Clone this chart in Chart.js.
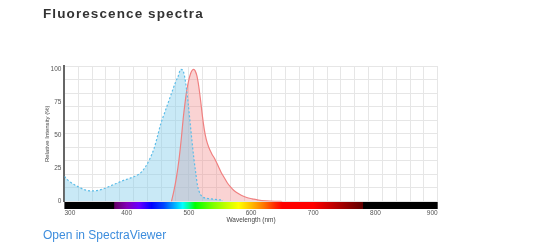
<!DOCTYPE html>
<html lang="en">

<head>
  <meta charset="UTF-8">
  <title>Fluorescence spectra</title>
  <script src="https://cdn.jsdelivr.net/npm/chart.js"></script>
  <style>
    body {
      margin: 0;
      background: #fff;
      font-family: "Liberation Sans", Arial, sans-serif;
    }

    .title {
      position: absolute;
      left: 43px;
      top: 6px;
      font-size: 13.5px;
      line-height: 16px;
      font-weight: bold;
      letter-spacing: 1.1px;
      color: #333;
    }

    .chart-box {
      position: absolute;
      left: 0;
      top: 0;
      width: 536px;
      height: 243px;
    }

    .link {
      position: absolute;
      left: 43px;
      top: 228px;
      font-size: 12px;
      line-height: 14px;
      color: #3d8ddd;
      text-decoration: none;
    }
  </style>
</head>

<body>
  <div class="chart-box">
    <canvas id="spectraChart" width="536" height="243"></canvas>
  </div>
  <div class="title">Fluorescence spectra</div>
  <a class="link" href="#">Open in SpectraViewer</a>

  <script>
    // excitation (blue, dotted)
    const exWavelength = [300, 306, 315, 325, 335, 345, 355, 365, 375, 385, 395, 405, 415, 422, 430, 437, 444, 450, 455, 461, 467, 473, 478, 483, 487, 490, 493, 496, 499, 502, 505, 508, 511, 514, 518, 522, 528, 535, 545, 555];
    const exIntensity = [19, 16, 13, 10.5, 8.5, 8, 8.5, 10, 12, 14, 16, 17.5, 19.5, 21.5, 26, 32, 40, 50, 59, 67, 75, 83, 89.5, 95, 100, 99.5, 95, 86, 74, 60, 46, 33, 22, 12, 6, 3.5, 2.5, 2, 1.5, 1];

    // emission (red, solid)
    const emWavelength = [472, 476, 480, 484, 488, 491, 494, 497, 500, 503, 506, 508, 510, 513, 516, 519, 522, 525, 528, 532, 537, 542, 547, 552, 557, 562, 567, 572, 578, 585, 593, 602, 612, 625, 640, 650];
    const emIntensity = [0, 8, 18, 31, 48, 63, 75, 85, 92, 97, 99.5, 100, 99, 95, 87, 76, 64, 54, 47, 41, 36, 32, 27, 22, 18, 14, 11, 8.5, 6.5, 4.5, 3, 2, 1, 0.4, 0.1, 0];

    const xTicks = [300, 400, 500, 600, 700, 800, 900];
    const yTicks = [0, 25, 50, 75, 100];

    // visible spectrum strip under the plot (nm, colour)
    const spectrumStops = [
      [380, '#610061'], [400, '#8300b5'], [420, '#6a00ff'], [440, '#0000ff'],
      [460, '#0046ff'], [480, '#00c0ff'], [490, '#00ffff'], [500, '#00ff92'],
      [510, '#00ff00'], [540, '#81ff00'], [560, '#c3ff00'], [580, '#ffff00'],
      [600, '#ffbe00'], [620, '#ff7700'], [640, '#ff2100'], [650, '#ff0000'],
      [700, '#ff0000'], [740, '#b00000'], [780, '#600000']
    ];

    const toPoints = (xs, ys) => xs.map((x, i) => ({ x: x, y: ys[i] }));

    const spectrumBar = {
      id: 'spectrumBar',
      afterDatasetsDraw(chart) {
        const { ctx, chartArea, scales } = chart;
        const x = scales.x;
        const top = chartArea.bottom + 0.5;
        const h = 7;
        ctx.save();
        ctx.fillStyle = '#000';
        ctx.fillRect(chartArea.left, top, chartArea.right - chartArea.left, h);
        const x0 = x.getPixelForValue(spectrumStops[0][0]);
        const x1 = x.getPixelForValue(spectrumStops[spectrumStops.length - 1][0]);
        const grad = ctx.createLinearGradient(x0, 0, x1, 0);
        spectrumStops.forEach(([nm, c]) => {
          grad.addColorStop((x.getPixelForValue(nm) - x0) / (x1 - x0), c);
        });
        ctx.fillStyle = grad;
        ctx.fillRect(x0, top, x1 - x0, h);
        ctx.restore();
      }
    };

    const tickFont = { family: 'Liberation Sans', size: 6.5 };
    const gridColor = '#e6e6e6';

    new Chart(document.getElementById('spectraChart'), {
      type: 'line',
      data: {
        datasets: [{
          label: 'Excitation',
          data: toPoints(exWavelength, exIntensity),
          borderColor: '#5dbde8',
          borderWidth: 1.2,
          borderDash: [2, 2],
          backgroundColor: 'rgba(135, 206, 235, 0.45)',
          fill: 'origin',
          pointRadius: 0,
          cubicInterpolationMode: 'monotone'
        }, {
          label: 'Emission',
          data: toPoints(emWavelength, emIntensity),
          borderColor: '#f08080',
          borderWidth: 1.2,
          backgroundColor: 'rgba(240, 128, 128, 0.35)',
          fill: 'origin',
          pointRadius: 0,
          cubicInterpolationMode: 'monotone'
        }]
      },
      options: {
        responsive: false,
        animation: false,
        layout: { padding: { left: 0, right: 98.3, top: 66, bottom: 0 } },
        plugins: {
          legend: { display: false },
          tooltip: { enabled: false },
          filler: { drawTime: 'beforeDatasetsDraw' }
        },
        scales: {
          x: {
            type: 'linear',
            position: 'bottom',
            min: 300,
            max: 900,
            afterBuildTicks: s => { s.ticks = xTicks.map(v => ({ value: v })); },
            afterFit: s => { s.height = 41.5; },
            ticks: { align: 'inner', padding: 8, font: tickFont, color: '#555', maxRotation: 0 },
            grid: { display: false, drawTicks: false },
            border: { display: false },
            title: {
              display: true,
              text: 'Wavelength (nm)',
              font: tickFont,
              color: '#444',
              padding: { top: 0, bottom: 19 }
            }
          },
          y: {
            position: 'left',
            min: 0,
            max: 102.5,
            afterBuildTicks: s => { s.ticks = yTicks.map(v => ({ value: v })); },
            afterFit: s => { s.width = 64.4; },
            ticks: { padding: 3, font: tickFont, color: '#555' },
            grid: { display: false, drawTicks: false },
            border: { display: true, color: '#666', width: 2 },
            title: {
              display: true,
              text: 'Relative Intensity (%)',
              font: { family: 'Liberation Sans', size: 6 },
              color: '#444',
              padding: { top: 43.4, bottom: 0 }
            }
          },
          // background grid only
          gridX: {
            type: 'linear',
            position: 'top',
            min: 0,
            max: 27,
            afterFit: s => { s.height = 0; },
            ticks: { display: false, stepSize: 1, maxTicksLimit: 100, autoSkip: false },
            grid: { color: gridColor, drawTicks: false },
            border: { display: false }
          },
          gridY: {
            type: 'linear',
            position: 'right',
            min: 0,
            max: 10,
            afterFit: s => { s.width = 0; },
            ticks: { display: false, stepSize: 1, maxTicksLimit: 100 },
            grid: { color: gridColor, drawTicks: false },
            border: { display: false }
          }
        }
      },
      plugins: [spectrumBar]
    });
  </script>
</body>

</html>
